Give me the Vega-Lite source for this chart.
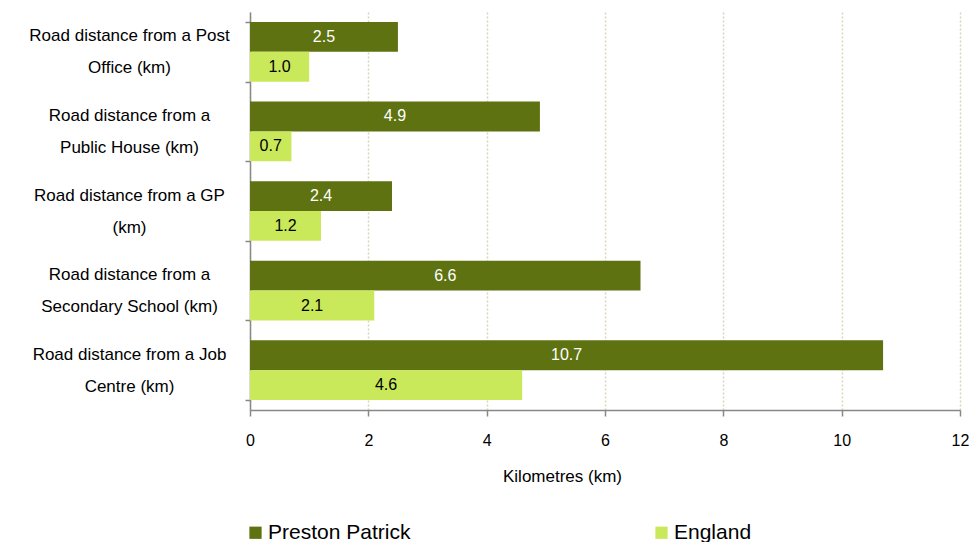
{
  "$schema": "https://vega.github.io/schema/vega-lite/v6.json",
  "autosize": "none",
  "width": 710,
  "height": 398,
  "padding": {"left": 250, "top": 12, "right": 11, "bottom": 132},
  "background": "white",
  "config": {
    "view": {"stroke": null},
    "font": "Liberation Sans",
    "text": {"font": "Liberation Sans"}
  },
  "data": {
    "values": [
      {"category": "Road distance from a Post|Office (km)", "series": "Preston Patrick", "value": 2.5},
      {"category": "Road distance from a Post|Office (km)", "series": "England", "value": 1.0},
      {"category": "Road distance from a|Public House (km)", "series": "Preston Patrick", "value": 4.9},
      {"category": "Road distance from a|Public House (km)", "series": "England", "value": 0.7},
      {"category": "Road distance from a GP|(km)", "series": "Preston Patrick", "value": 2.4},
      {"category": "Road distance from a GP|(km)", "series": "England", "value": 1.2},
      {"category": "Road distance from a|Secondary School (km)", "series": "Preston Patrick", "value": 6.6},
      {"category": "Road distance from a|Secondary School (km)", "series": "England", "value": 2.1},
      {"category": "Road distance from a Job|Centre (km)", "series": "Preston Patrick", "value": 10.7},
      {"category": "Road distance from a Job|Centre (km)", "series": "England", "value": 4.6}
    ]
  },
  "encoding": {
    "y": {
      "field": "category",
      "type": "nominal",
      "sort": null,
      "scale": {"paddingInner": 0.25, "paddingOuter": 0.125},
      "axis": {
        "title": null,
        "labelExpr": "split(datum.label, '|')",
        "labelAlign": "center",
        "labelPadding": 116,
        "labelOffset": -16,
        "labelFontSize": 17,
        "labelColor": "#000000",
        "labelLineHeight": 32,
        "labelLimit": 260,
        "tickBand": "extent",
        "tickSize": 5,
        "tickColor": "#888888",
        "tickWidth": 1.5,
        "domainColor": "#888888",
        "domainWidth": 1.5,
        "grid": false
      }
    },
    "yOffset": {
      "field": "series",
      "type": "nominal",
      "sort": ["Preston Patrick", "England"],
      "scale": {"paddingInner": 0, "paddingOuter": 0}
    }
  },
  "layer": [
    {
      "mark": {"type": "bar"},
      "encoding": {
        "x": {
          "field": "value",
          "type": "quantitative",
          "scale": {"domain": [0, 12]},
          "axis": {
            "title": "Kilometres (km)",
            "titleFontSize": 17,
            "titleFontWeight": "normal",
            "titleColor": "#000000",
            "titleX": 312,
            "titlePadding": 20,
            "values": [0, 2, 4, 6, 8, 10, 12],
            "format": "d",
            "labelFlush": false,
            "labelFontSize": 16,
            "labelColor": "#000000",
            "labelPadding": 16,
            "tickSize": 6,
            "tickColor": "#888888",
            "tickWidth": 1.5,
            "domainColor": "#888888",
            "domainWidth": 1.5,
            "grid": true,
            "gridColor": "#d9d4b5",
            "gridDash": [2, 2],
            "gridWidth": 1.5
          }
        },
        "color": {
          "field": "series",
          "type": "nominal",
          "sort": ["Preston Patrick", "England"],
          "scale": {"domain": ["Preston Patrick", "England"], "range": ["#5e7211", "#c9e95a"]},
          "legend": {
            "title": null,
            "orient": "none",
            "legendX": -5,
            "legendY": 510,
            "direction": "horizontal",
            "symbolType": "square",
            "symbolSize": 150,
            "symbolStrokeWidth": 0,
            "labelFontSize": 21,
            "labelColor": "#000000",
            "labelOffset": 2,
            "columnPadding": 240,
            "labelLimit": 300
          }
        }
      }
    },
    {
      "transform": [{"calculate": "datum.value / 2", "as": "mid"}],
      "mark": {"type": "text", "fontSize": 16, "baseline": "middle", "align": "center"},
      "encoding": {
        "x": {"field": "mid", "type": "quantitative"},
        "text": {"field": "value", "type": "quantitative", "format": ".1f"},
        "color": {
          "condition": {"test": "datum.series === 'Preston Patrick'", "value": "#ffffff"},
          "value": "#000000"
        }
      }
    }
  ]
}
